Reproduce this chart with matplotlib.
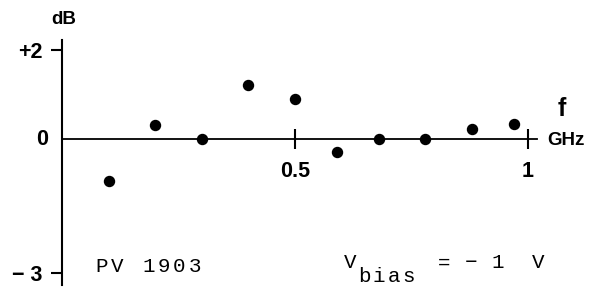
import matplotlib
matplotlib.use('Agg')
import matplotlib.pyplot as plt

# measured points, PV 1903 at V_bias = -1 V
freq_ghz = [0.10, 0.20, 0.30, 0.40, 0.50, 0.59, 0.68, 0.78, 0.88, 0.97]
gain_db = [-0.94, 0.32, 0.0, 1.20, 0.90, -0.29, 0.0, 0.0, 0.23, 0.34]
xtick_vals, xtick_labels = [0.5, 1.0], ['0.5', '1']
ytick_vals, ytick_labels = [2, -3], ['+2', '\u2212 3']

W, H = 597, 291
fig = plt.figure(figsize=(W / 100, H / 100), dpi=100)
ax = fig.add_axes([62 / W, 6 / H, 475 / W, 245 / H])

ax.plot(freq_ghz, gain_db, 'o', color='black', markersize=7.2, zorder=3)

ax.set_xlim(0, 1.02)
ax.set_ylim(-3.28, 2.22)
ax.patch.set_visible(False)
for s in ['top', 'right']:
    ax.spines[s].set_visible(False)
ax.spines['left'].set_position(('data', 0))
ax.spines['bottom'].set_position(('data', 0))
ax.spines['left'].set_linewidth(1.5)
ax.spines['bottom'].set_linewidth(1.3)

sans = 'Liberation Sans'
ax.set_xticks(xtick_vals)
ax.set_xticklabels(xtick_labels, fontfamily=sans, fontweight='bold', fontsize=15.5)
ax.tick_params(axis='x', direction='inout', length=14, width=1.5, pad=9)
ax.set_yticks(ytick_vals)
ax.set_yticklabels(ytick_labels, fontfamily=sans, fontweight='bold', fontsize=15.5)
ax.tick_params(axis='y', direction='out', length=8, width=1.5, pad=6)


def px(x, y):
    return x / W, 1 - y / H


# axis captions
fig.text(*px(42, 139), '0', fontfamily=sans, fontweight='bold', fontsize=15.5, ha='center', va='center')
fig.text(*px(64, 19), 'dB', fontfamily=sans, fontweight='bold', fontsize=13.5, ha='center', va='center')
fig.text(*px(562, 109), 'f', fontfamily=sans, fontweight='bold', fontsize=18, ha='center', va='center')
fig.text(*px(566, 140), 'GHz', fontfamily=sans, fontweight='bold', fontsize=13.5, ha='center', va='center')


# typewriter annotations
def typed(s, x0, y, pitch, size=15):
    for i, ch in enumerate(s):
        if ch != ' ':
            fig.text(*px(x0 + i * pitch, y), ch, fontfamily='Liberation Mono',
                     fontsize=size, ha='center', va='center')


typed('PV 1903', 102, 266, 15.5)
typed('V', 350, 262, 15)
typed('bias', 364, 277, 15)
typed('= \u2212 1  V', 444, 263, 13.5)

fig.savefig('out.png', dpi=100)
